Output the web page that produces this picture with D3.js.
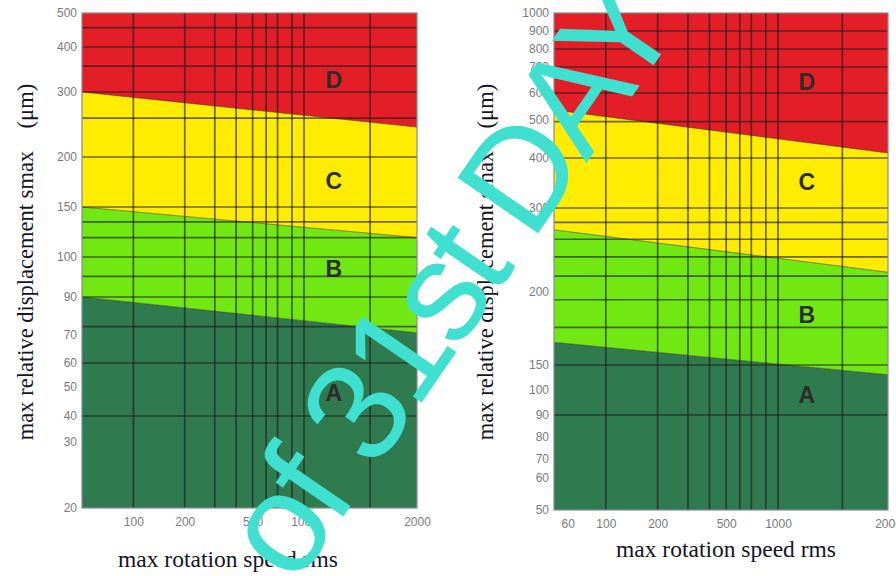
<!DOCTYPE html>
<html>
<head>
<meta charset="utf-8">
<script src="https://cdn.jsdelivr.net/npm/d3@7"></script>
<style>
  body { margin: 0; background: #fff; }
  svg { display: block; }
  .tick text { font-family: "Liberation Sans", Arial, sans-serif; font-size: 12px; fill: #7a7a7a; }
  .title { font-family: "Liberation Serif", "Times New Roman", serif; fill: #141428; white-space: pre; }
  .zone { font-family: "Liberation Sans", Arial, sans-serif; font-size: 23px; font-weight: bold; fill: #2c2c2c; }
</style>
</head>
<body>
<div id="chart"></div>
<script>
// speed range of both charts (left edge, right edge)
var speedEnds = [50, 2000];

// left chart
var xTicksLeft = [100, 200, 500, 1000, 2000];
var yTicksLeft = [20, 30, 40, 50, 60, 70, 90, 100, 150, 200, 300, 400, 500];
var yGridLeft = [454, 400, 354, 300, 255, 200, 150, 133, 117, 100, 95, 90, 74, 60, 40];
// zone limits A/B, B/C, C/D at speed 50 and 2000
var limitsLeft = [[90, 71], [150, 117], [300, 241]];
var zoneValLeft = [48, 97, 174, 324];

// right chart
var xTicksRight = [60, 100, 200, 500, 1000, 2000];
var yTicksRight = [50, 60, 70, 80, 90, 100, 150, 200, 300, 400, 500, 600, 700, 800, 900, 1000];
var yGridRight = [900, 800, 700, 600, 495, 400, 300, 280, 258, 237, 216, 194, 174, 150, 90];
var limitsRight = [[164, 128], [270, 220], [535, 412]];
var zoneValRight = [98, 183, 348, 640];

// shared
var xGrid = [100, 200, 300, 400, 500, 600, 700, 850, 1000, 1500];
var zoneNames = ["A", "B", "C", "D"];
var zoneSpeed = 1200;
var zoneColors = ["#2f7a4f", "#72e813", "#ffec00", "#e31e26"];

var svg = d3.select("#chart")
    .append("svg")
    .attr("width", 896)
    .attr("height", 576);

// the printed axes are not a clean log scale, so the y scales are piecewise
var panels = [
    {
        xTicks: xTicksLeft, yTicks: yTicksLeft, yGrid: yGridLeft,
        limits: limitsLeft, zoneVal: zoneValLeft,
        xRange: [82, 304, 417],
        yRange: [508, 442, 416, 387, 363, 335, 297, 257, 207, 157, 92, 47, 13],
        yTitleX: 33, xTitle: [228, 567]
    },
    {
        xTicks: xTicksRight, yTicks: yTicksRight, yGrid: yGridRight,
        limits: limitsRight, zoneVal: zoneValRight,
        xRange: [554, 778, 888],
        yRange: [510, 478, 459, 437, 415, 390, 365, 292, 208, 158, 120, 93, 67, 49, 31, 13],
        yTitleX: 493, xTitle: [726, 557]
    }
];

panels.forEach(function(p) {
    var x = d3.scaleLog()
        .domain([speedEnds[0], 1000, speedEnds[1]])
        .range(p.xRange);
    var y = d3.scaleLog()
        .domain(p.yTicks)
        .range(p.yRange);

    var yMin = p.yTicks[0], yMax = p.yTicks[p.yTicks.length - 1];
    var bounds = [[yMin, yMin]].concat(p.limits).concat([[yMax, yMax]]);

    var line = d3.line()
        .x(function(d) { return x(d[0]); })
        .y(function(d) { return y(d[1]); });

    var g = svg.append("g");

    // colour zones
    g.selectAll(".band")
        .data(zoneNames)
        .enter()
        .append("path")
        .attr("d", function(d, i) {
            return line([
                [speedEnds[0], bounds[i][0]],
                [speedEnds[1], bounds[i][1]],
                [speedEnds[1], bounds[i + 1][1]],
                [speedEnds[0], bounds[i + 1][0]]
            ]) + "Z";
        })
        .style("fill", function(d, i) { return zoneColors[i]; });

    // zone limits
    g.selectAll(".limit")
        .data(p.limits)
        .enter()
        .append("path")
        .attr("d", function(d) {
            return line([[speedEnds[0], d[0]], [speedEnds[1], d[1]]]);
        })
        .style("fill", "none")
        .style("stroke", "#3a3a1a")
        .style("stroke-opacity", 0.6)
        .style("stroke-width", 1);

    // grid
    g.selectAll(".hgrid")
        .data(p.yGrid)
        .enter()
        .append("line")
        .attr("x1", x(speedEnds[0]))
        .attr("x2", x(speedEnds[1]))
        .attr("y1", function(d) { return y(d); })
        .attr("y2", function(d) { return y(d); })
        .style("stroke", "#1e1e1e")
        .style("stroke-opacity", 0.65)
        .style("stroke-width", 1.7);
    g.selectAll(".vgrid")
        .data(xGrid)
        .enter()
        .append("line")
        .attr("x1", function(d) { return x(d); })
        .attr("x2", function(d) { return x(d); })
        .attr("y1", y(yMin))
        .attr("y2", y(yMax))
        .style("stroke", "#1e1e1e")
        .style("stroke-opacity", 0.65)
        .style("stroke-width", 1.7);

    g.append("rect")
        .attr("x", x(speedEnds[0]))
        .attr("y", y(yMax))
        .attr("width", x(speedEnds[1]) - x(speedEnds[0]))
        .attr("height", y(yMin) - y(yMax))
        .style("fill", "none")
        .style("stroke", "#8a8a8a")
        .style("stroke-width", 1.2);

    // zone letters
    g.selectAll(".zone")
        .data(zoneNames)
        .enter()
        .append("text")
        .attr("class", "zone")
        .attr("x", x(zoneSpeed))
        .attr("y", function(d, i) { return y(p.zoneVal[i]); })
        .attr("dy", "0.36em")
        .attr("text-anchor", "middle")
        .text(function(d) { return d; });

    // axes
    var xAxis = g.append("g")
        .attr("transform", "translate(0," + y(yMin) + ")")
        .call(d3.axisBottom(x).tickValues(p.xTicks).tickFormat(d3.format("d")).tickSize(0).tickPadding(9));
    xAxis.select(".domain").remove();

    var yAxis = g.append("g")
        .attr("transform", "translate(" + x(speedEnds[0]) + ",0)")
        .call(d3.axisLeft(y).tickValues(p.yTicks).tickFormat(d3.format("d")).tickSize(0).tickPadding(5));
    yAxis.select(".domain").remove();

    // titles
    g.append("text")
        .attr("class", "title")
        .attr("transform", "translate(" + p.yTitleX + ",262) rotate(-90)")
        .attr("text-anchor", "middle")
        .style("font-size", "22.5px")
        .text("max relative displacement smax    (\u03bcm)");

    g.append("text")
        .attr("class", "title")
        .attr("x", p.xTitle[0])
        .attr("y", p.xTitle[1])
        .attr("text-anchor", "middle")
        .style("font-size", "23.5px")
        .text("max rotation speed rms");
});

// watermark across both charts
svg.append("text")
    .attr("transform", "translate(295,587) rotate(-55.5)")
    .style("font-family", "'Liberation Sans', Arial, sans-serif")
    .style("font-size", "142px")
    .style("letter-spacing", "-6px")
    .style("fill", "#40e0d0")
    .style("white-space", "pre")
    .text("of 31st DAY");
</script>
</body>
</html>
